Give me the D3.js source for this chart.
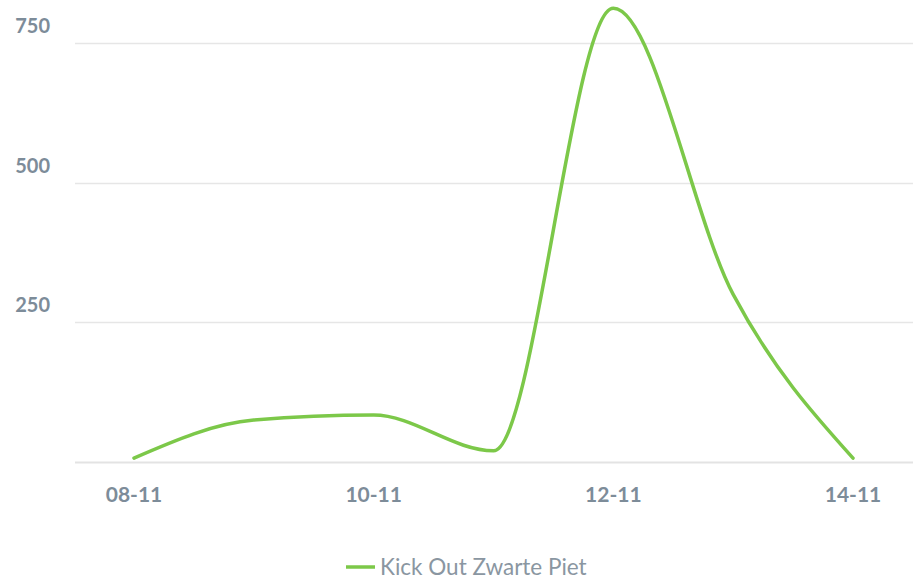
<!DOCTYPE html>
<html><head><meta charset="utf-8">
<script src="https://cdn.jsdelivr.net/npm/d3@7"></script>
<style>body{margin:0;background:#fff;}svg{display:block;}</style>
</head><body>
<svg id="c" width="913" height="579"></svg>
<script>
const days = ["08-11","09-11","10-11","11-11","12-11","13-11","14-11"];
const values = [7, 75, 84, 20, 812, 300, 7];
const yTicks = [250, 500, 750];
const xTickLabels = ["08-11","10-11","12-11","14-11"];
const seriesName = "Kick Out Zwarte Piet";

const svg = d3.select("#c");
const x = d3.scalePoint().domain(days).range([134, 853]);
const y = d3.scaleLinear().domain([0, 750]).range([462, 43]);

// gridlines
svg.append("g").selectAll("line").data(yTicks).join("line")
  .attr("x1", 75).attr("x2", 913)
  .attr("y1", d => Math.round(y(d)) + 0.5).attr("y2", d => Math.round(y(d)) + 0.5)
  .attr("stroke", "#e6e6e6").attr("stroke-width", 1.5);
// baseline
svg.append("line").attr("x1", 75).attr("x2", 913)
  .attr("y1", y(0) + 0.5).attr("y2", y(0) + 0.5)
  .attr("stroke", "#e3e3e3").attr("stroke-width", 2);

// y labels
svg.append("g").selectAll("text").data(yTicks).join("text")
  .attr("x", 50).attr("y", d => y(d) - 10)
  .attr("text-anchor", "end")
  .attr("font-family", "Lato, sans-serif").attr("font-weight", "bold")
  .attr("font-size", 20).attr("fill", "#7d8c99")
  .text(d => d);

// x labels
svg.append("g").selectAll("text").data(xTickLabels).join("text")
  .attr("x", d => x(d)).attr("y", 502)
  .attr("text-anchor", "middle")
  .attr("font-family", "Lato, sans-serif").attr("font-weight", "bold")
  .attr("font-size", 21).attr("fill", "#7d8c99")
  .text(d => d);

// line
const line = d3.line().x((d, i) => x(days[i])).y(d => y(d)).curve(d3.curveMonotoneX);
svg.append("path").datum(values).attr("d", line)
  .attr("fill", "none").attr("stroke", "#7cc849").attr("stroke-width", 3.5)
  .attr("stroke-linejoin", "round").attr("stroke-linecap", "round");

// legend
const lg = svg.append("g");
lg.append("line").attr("x1", 346).attr("x2", 375).attr("y1", 567).attr("y2", 567)
  .attr("stroke", "#7cc849").attr("stroke-width", 3.5);
lg.append("text").attr("x", 380).attr("y", 575)
  .attr("font-family", "Lato, sans-serif").attr("font-size", 22.5)
  .attr("fill", "#8a96a1").text(seriesName);
</script>
</body></html>
